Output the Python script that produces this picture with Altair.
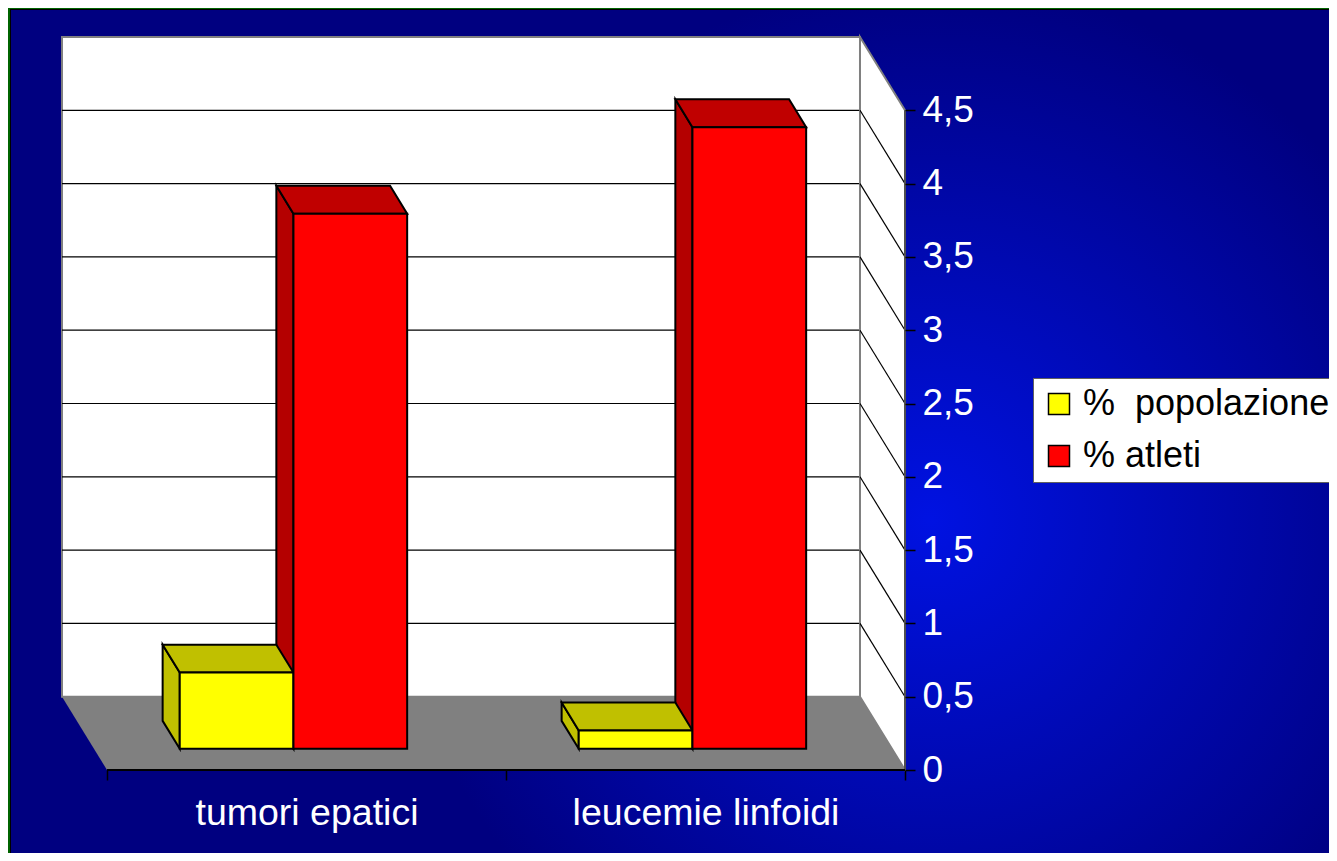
import altair as alt
import pandas as pd

# ---------------- data ----------------
categories = ["tumori epatici", "leucemie linfoidi"]
series = ["%  popolazione", "% atleti"]
popolazione = [0.52, 0.125]
atleti = [3.65, 4.24]
y_ticks = [0, 0.5, 1, 1.5, 2, 2.5, 3, 3.5, 4, 4.5]

front_colors = ["#FFFF00", "#FF0000"]
top_colors = ["#C0C000", "#C00000"]
side_colors = ["#C0C000", "#B40000"]

FONT = "Liberation Sans, Arial, Helvetica, sans-serif"

# ------------- pseudo 3-D geometry (in data units) -------------
DX = 0.1128          # horizontal shift of the back plane (category units)
DY = 0.5             # vertical shift of the back plane (value units)
T0, T1 = 0.29, 0.67  # depth of bar front / back
W = 0.285            # bar width (category units)
N = len(categories)
YMAX = y_ticks[-1] + DY

xs = alt.Scale(domain=[-DX, N], nice=False, zero=False)
ys = alt.Scale(domain=[0, YMAX], nice=False, zero=False)

label_expr = " : ".join(
    f"datum.value === {i + 0.5} ? '{c}'" for i, c in enumerate(categories)
) + " : ''"

XAX = alt.Axis(
    orient="bottom", values=[i * 0.5 for i in range(2 * N + 1)], labelExpr=label_expr,
    domain=False, grid=False, title=None, tickSize=10, tickWidth=1.5, zindex=2,
    tickColor={"condition": {"test": "datum.value % 1 === 0", "value": "black"}, "value": "transparent"},
    labelFont=FONT, labelFontSize=37.5, labelColor="white", labelBaseline="alphabetic",
    labelPadding=44, labelFlush=False, labelOverlap=False, labelBound=False, labelLimit=600,
)
YAX = alt.Axis(
    orient="right", values=y_ticks,
    labelExpr="replace(format(datum.value, '.1~f'), '.', ',')",
    domain=False, grid=False, title=None, tickSize=10, tickWidth=1.5, tickColor="black",
    zindex=2,
    labelFont=FONT, labelFontSize=37, labelColor="white", labelPadding=7,
    labelFlush=False, labelOverlap=False, labelBound=False, labelLimit=300,
)


def X(f):
    return alt.X(f"{f}:Q", scale=xs, axis=XAX)


def Y(f):
    return alt.Y(f"{f}:Q", scale=ys, axis=YAX)


# ------------- tables built from the arrays -------------
vals = [popolazione, atleti]
front, top, side = [], [], []
for ci, cat in enumerate(categories):
    for si, s in enumerate(series):
        v = vals[si][ci]
        u0 = ci + 0.5 + (si - 1) * W
        u1 = u0 + W
        bid = f"{ci}-{si}"
        front.append(dict(series=s, cat=cat, v=v, x0=u0 - DX * T0, x1=u1 - DX * T0,
                          y0=DY * T0, y1=v + DY * T0))
        for t in (T0, T1):
            top.append(dict(bar=bid, si=si, shade=top_colors[si], y=v + DY * t,
                            x0=u0 - DX * t, x1=u1 - DX * t))
        for t in (T1, T0):
            side.append(dict(bar=bid, si=si, shade=side_colors[si], x=u0 - DX * t,
                             y0=DY * t, y1=v + DY * t))

front_df = pd.DataFrame(front)
top_df = pd.DataFrame(top).sort_values(["si", "bar", "y"])
side_df = pd.DataFrame(side).sort_values(["si", "bar", "x"])

grid_vals = y_ticks[1:-1]
grid_df = pd.DataFrame(dict(x0=[-DX] * len(grid_vals), x1=[N - DX] * len(grid_vals),
                            yb=[g + DY for g in grid_vals], yf=grid_vals,
                            xf=[N] * len(grid_vals)))
grid_df["xb"] = N - DX

wall_df = pd.DataFrame(dict(x0=[-DX], x1=[N - DX], y0=[DY], y1=[YMAX]))
sidewall_df = pd.DataFrame(dict(x=[N - DX, N], y0=[DY, 0], y1=[YMAX, y_ticks[-1]]))
floor_df = pd.DataFrame(dict(y=[0, DY], x0=[0, -DX], x1=[N, N - DX]))
edge_df = pd.DataFrame(dict(x=[N], y0=[0], y1=[y_ticks[-1]]))
front_edge_df = pd.DataFrame(dict(x0=[0], x1=[N], y=[0]))
one = pd.DataFrame(dict(k=[0]))

# ------------- background (slide) -------------
grad = {
    "gradient": "radial", "x1": 0.5, "y1": 0.5, "r1": 0, "x2": 0.5, "y2": 0.5, "r2": 0.27,
    "stops": [{"offset": 0, "color": "#0012E2"}, {"offset": 1, "color": "#000080"}],
}
bg = alt.Chart(one).mark_rect(fill=grad).encode(
    x=alt.value(-132), x2=alt.value(1868), y=alt.value(-517), y2=alt.value(1483))


def strip(x, x2, y, y2, color):
    return alt.Chart(one).mark_rect(fill=color).encode(
        x=alt.value(x), x2=alt.value(x2), y=alt.value(y), y2=alt.value(y2))


frame = [
    strip(-54, -52, -29, 820, "#006400"),
    strip(-54, 1270, -29, -28, "#006400"),
    strip(-52, -51, -28, 820, "#000000"),
    strip(-52, 1270, -28, -27, "#000000"),
]

# ------------- plot box -------------
wall = alt.Chart(wall_df).mark_rect(fill="white", stroke="#808080", strokeWidth=2).encode(
    x=X("x0"), x2="x1", y=Y("y0"), y2="y1")
grid = alt.Chart(grid_df).mark_rule(color="black", strokeWidth=1.2).encode(
    x=X("x0"), x2="x1", y=Y("yb"))
sidewall = alt.Chart(sidewall_df).mark_area(
    fill="white", stroke="#808080", strokeWidth=2, orient="vertical").encode(
    x=X("x"), y=Y("y0"), y2="y1")
diag = alt.Chart(grid_df).mark_rule(color="black", strokeWidth=1.2).encode(
    x=X("xb"), y=Y("yb"), x2="xf", y2="yf")
floor = alt.Chart(floor_df).mark_area(fill="#808080", orient="horizontal").encode(
    y=Y("y"), x=X("x0"), x2="x1")
edge = alt.Chart(edge_df).mark_rule(color="#505050", strokeWidth=2).encode(
    x=X("x"), y=Y("y0"), y2="y1")
front_edge = alt.Chart(front_edge_df).mark_rule(color="black", strokeWidth=2).encode(
    x=X("x0"), x2="x1", y=Y("y"))

# ------------- bars -------------
sides = alt.Chart(side_df).mark_area(stroke="black", strokeWidth=2, orient="vertical",
                                     fillOpacity=1).encode(
    x=X("x"), y=Y("y0"), y2="y1", fill=alt.Fill("shade:N", scale=None), detail="bar:N")
tops = alt.Chart(top_df).mark_area(stroke="black", strokeWidth=2, orient="horizontal",
                                   fillOpacity=1).encode(
    y=Y("y"), x=X("x0"), x2="x1", fill=alt.Fill("shade:N", scale=None), detail="bar:N")
fronts = alt.Chart(front_df).mark_rect(stroke="black", strokeWidth=2).encode(
    x=X("x0"), x2="x1", y=Y("y0"), y2="y1",
    fill=alt.Fill(
        "series:N", sort=series,
        scale=alt.Scale(domain=series, range=front_colors),
        legend=alt.Legend(
            title=None, orient="none", legendX=971, legendY=341,
            fillColor="white", strokeColor="#606060", padding=8,
            symbolType="square", symbolSize=441, symbolStrokeColor="black",
            symbolStrokeWidth=1.5, symbolOpacity=1, zindex=2,
            labelFont=FONT, labelFontSize=36, labelColor="black", labelOffset=6,
            labelLimit=500, rowPadding=16,
            labelExpr="replace(datum.label, '  ', ' \u00a0')",
        ),
    ),
)

chart = alt.layer(
    bg, *frame, wall, grid, sidewall, diag, floor, edge, front_edge, sides, tops, fronts
).properties(
    width=843, height=733,
    padding={"left": 54, "top": 29, "right": 424, "bottom": 83},
    autosize=alt.AutoSizeParams(type="none"),
    background="#000080",
).configure_view(stroke=None)

chart.save("out.html", embed_options={"renderer": "svg", "actions": False})
